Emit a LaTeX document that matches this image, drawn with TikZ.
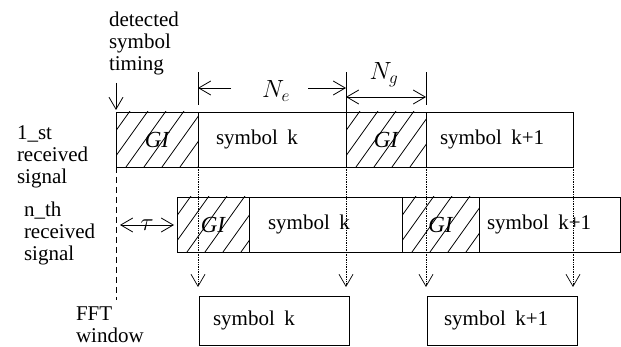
\documentclass[tikz,border=0pt]{standalone}
\usepackage{fontspec}
\setmainfont{Liberation Serif}
\usepackage{tikz}
\usetikzlibrary{positioning,arrows.meta}

\begin{document}
\begin{tikzpicture}[x=1pt,y=-1pt,
  font=\fontsize{21}{22}\selectfont,
  every node/.style={inner sep=0pt, outer sep=0pt},
  box/.style={draw, line width=0.9pt, minimum height=55pt},
  gibox/.style={box, font=\fontsize{23}{23}\selectfont\itshape, path picture={
      \foreach \s in {-44,-26,...,90}
        \draw[line width=0.8pt] ([xshift=\s pt]path picture bounding box.south west) -- ++(40pt,56pt);
    }},
  tip/.style={-{Straight Barb[length=12pt,width=14pt]}},
  dbltip/.style={{Straight Barb[length=12pt,width=14pt]}-{Straight Barb[length=12pt,width=14pt]}},
  win/.style={densely dotted, line width=0.7pt, tip, shorten >=9pt},
  lbl/.style={align=left, anchor=west},
  dim/.style={font=\fontsize{26}{26}\selectfont}
]
  \useasboundingbox (0,0) rectangle (621,347);

  % left texts
  \node[lbl] (timing) at (109,43) {detected\\symbol\\timing};
  \node[lbl] (first) at (17,157) {1\_st\\received\\signal};
  \node[lbl] (nth) at (24,233) {n\_th\\received\\signal};
  \node[lbl] (fft) at (76,325) {FFT\\window};

  % 1_st received signal
  \node[gibox, minimum width=82pt] (gia) at (157,139.5) {GI};
  \node[box, minimum width=148pt, right=0pt of gia] (ska) {};
  \node[gibox, minimum width=80pt, right=0pt of ska] (gib) {GI};
  \node[box, minimum width=147pt, right=0pt of gib] (skb) {};
  \node[right=18pt of ska.west] (tska) {symbol\hspace{0.45em}k};
  \node[right=14pt of skb.west] (tskb) {symbol\hspace{0.45em}k+1};

  % n_th received signal
  \node[gibox, minimum width=72pt] (nga) at (213,224.5) {GI};
  \node[box, minimum width=153pt, right=0pt of nga] (nska) {};
  \node[gibox, minimum width=77pt, right=0pt of nska] (ngb) {GI};
  \node[box, minimum width=141pt, right=0pt of ngb] (nskb) {};
  \node[right=19pt of nska.west] (tnska) {symbol\hspace{0.45em}k};
  \node[right=8pt of nskb.west] (tnskb) {symbol\hspace{0.45em}k+1};

  % FFT window
  \node[box, minimum width=150pt, minimum height=49pt] (fwa) at (274,320.5) {};
  \node[box, minimum width=150pt, minimum height=49pt] (fwb) at (502,320.5) {};
  \node[right=14pt of fwa.west] (tfwa) {symbol\hspace{0.45em}k};
  \node[right=17pt of fwb.west] (tfwb) {symbol\hspace{0.45em}k+1};

  % timing
  \coordinate (ttop) at (116,83);
  \coordinate (tbot) at (116,300);
  \draw[tip, line width=0.8pt, shorten >=2pt] (ttop) -- (gia.north west);
  \draw[dash pattern=on 6pt off 4pt, line width=0.8pt] (gia.south west) -- (tbot);

  \draw[win] (gia.south east) -- (gia.south east |- fwa.north);
  \draw[win] (ska.south east) -- (ska.south east |- fwa.north);
  \draw[win] (gib.south east) -- (gib.south east |- fwb.north);
  \draw[win] (skb.south east) -- (skb.south east |- fwb.north);

  % N_e and N_g
  \draw[line width=0.8pt] (ska.north west) ++(0,-7) -- ++(0,-33);
  \draw[line width=0.8pt] (ska.north east) -- ++(0,-40);
  \draw[line width=0.8pt] (gib.north east) ++(0,-7) -- ++(0,-33);
  \coordinate (nel) at (198,88);
  \coordinate (ner) at (346,88);
  \node[dim] (ne) at (276,91) {$N_e$};
  \draw[tip, line width=0.8pt] (231,88) -- (nel);
  \draw[tip, line width=0.8pt] (308,88) -- (ner);
  \coordinate (ngl) at (346,97);
  \coordinate (ngr) at (426,97);
  \draw[dbltip, line width=0.8pt] (ngl) -- (ngr);
  \node[dim] (ng) at (384,75) {$N_g$};

  % tau
  \coordinate (taul) at (120,225);
  \coordinate (taur) at (174,225);
  \draw[dbltip, line width=0.8pt] (taul) -- node[font=\fontsize{24}{24}\selectfont] (tau) {$\tau$} (taur);

\end{tikzpicture}
\end{document}
